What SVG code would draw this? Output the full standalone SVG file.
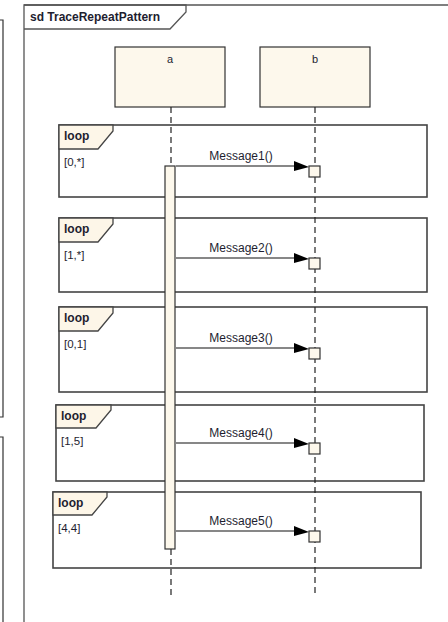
<svg xmlns="http://www.w3.org/2000/svg" width="448" height="622" viewBox="0 0 448 622">
<style>
text{font-family:"Liberation Sans",Arial,sans-serif;fill:#1e1e30}
.frame{fill:none;stroke:#555;stroke-width:1.3}
.loop{fill:none;stroke:#444;stroke-width:1.6}
.tag{fill:#fdf6e8;stroke:#444;stroke-width:1.3}
.lbl{font-size:12px;font-weight:bold}
.grd{font-size:11.5px}
.msg{font-size:12px;text-anchor:middle}
.ll{stroke:#222;stroke-width:1.2;stroke-dasharray:6,4;fill:none}
.box{fill:#fdf8ec;stroke:#333;stroke-width:1.2}
.ml{stroke:#111;stroke-width:1.2}
.ah{fill:#000}
</style>
<rect width="448" height="622" fill="#fff"/>
<path d="M0,20 H3 V417 H0 M0,437 H3 V622" fill="none" stroke="#333" stroke-width="1.2"/>
<g id="frame">
<path class="frame" d="M24,622 V5 H448"/>
<path class="frame" d="M24,5 H186 V12 L170,29 H24" fill="#fff"/>
<text x="30" y="21" class="lbl">sd TraceRepeatPattern</text>
</g>
<g id="loop1">
<rect class="loop" x="59" y="125" width="368" height="72"/>
<path class="tag" d="M59,125 H113 V131 L98,149 H59 Z"/>
<text x="64" y="140" class="lbl">loop</text>
<text x="64" y="166" class="grd">[0,*]</text>
</g>
<g id="loop2">
<rect class="loop" x="59" y="218" width="368" height="74"/>
<path class="tag" d="M59,218 H113 V224 L98,242 H59 Z"/>
<text x="64" y="233" class="lbl">loop</text>
<text x="64" y="259" class="grd">[1,*]</text>
</g>
<g id="loop3">
<rect class="loop" x="59" y="307" width="368" height="85"/>
<path class="tag" d="M59,307 H113 V313 L98,331 H59 Z"/>
<text x="64" y="322" class="lbl">loop</text>
<text x="64" y="348" class="grd">[0,1]</text>
</g>
<g id="loop4">
<rect class="loop" x="56" y="405" width="368" height="76"/>
<path class="tag" d="M56,405 H111 V410 L96,428 H56 Z"/>
<text x="61" y="420" class="lbl">loop</text>
<text x="61" y="445" class="grd">[1,5]</text>
</g>
<g id="loop5">
<rect class="loop" x="53" y="492" width="368" height="76"/>
<path class="tag" d="M53,492 H107 V497 L92,515 H53 Z"/>
<text x="58" y="507" class="lbl">loop</text>
<text x="58" y="532" class="grd">[4,4]</text>
</g>
<g id="a">
<rect class="box" x="115" y="47" width="110" height="60"/>
<text x="170" y="63" font-size="11" text-anchor="middle">a</text>
<path class="ll" d="M171,107 V166 M171,549 V596"/>
<rect class="box" x="165" y="166" width="10" height="383"/>
</g>
<g id="b">
<rect class="box" x="260" y="47" width="110" height="60"/>
<text x="315" y="63" font-size="11" text-anchor="middle">b</text>
<path class="ll" d="M315,107 V596"/>
<rect class="box" x="309" y="166" width="11" height="11"/>
<rect class="box" x="309" y="258" width="11" height="11"/>
<rect class="box" x="309" y="348" width="11" height="11"/>
<rect class="box" x="309" y="443" width="11" height="11"/>
<rect class="box" x="309" y="531" width="11" height="11"/>
</g>
<g id="connectors">
<line class="ml" x1="176" y1="166" x2="300" y2="166"/>
<polygon class="ah" points="294,161 309,167 294,171"/>
<text x="241" y="160" class="msg">Message1()</text>
<line class="ml" x1="176" y1="258" x2="300" y2="258"/>
<polygon class="ah" points="294,253 309,259 294,263"/>
<text x="241" y="252" class="msg">Message2()</text>
<line class="ml" x1="176" y1="348" x2="300" y2="348"/>
<polygon class="ah" points="294,343 309,349 294,353"/>
<text x="241" y="342" class="msg">Message3()</text>
<line class="ml" x1="176" y1="443" x2="300" y2="443"/>
<polygon class="ah" points="294,438 309,444 294,448"/>
<text x="241" y="437" class="msg">Message4()</text>
<line class="ml" x1="176" y1="531" x2="300" y2="531"/>
<polygon class="ah" points="294,526 309,532 294,536"/>
<text x="241" y="525" class="msg">Message5()</text>
</g>
</svg>
